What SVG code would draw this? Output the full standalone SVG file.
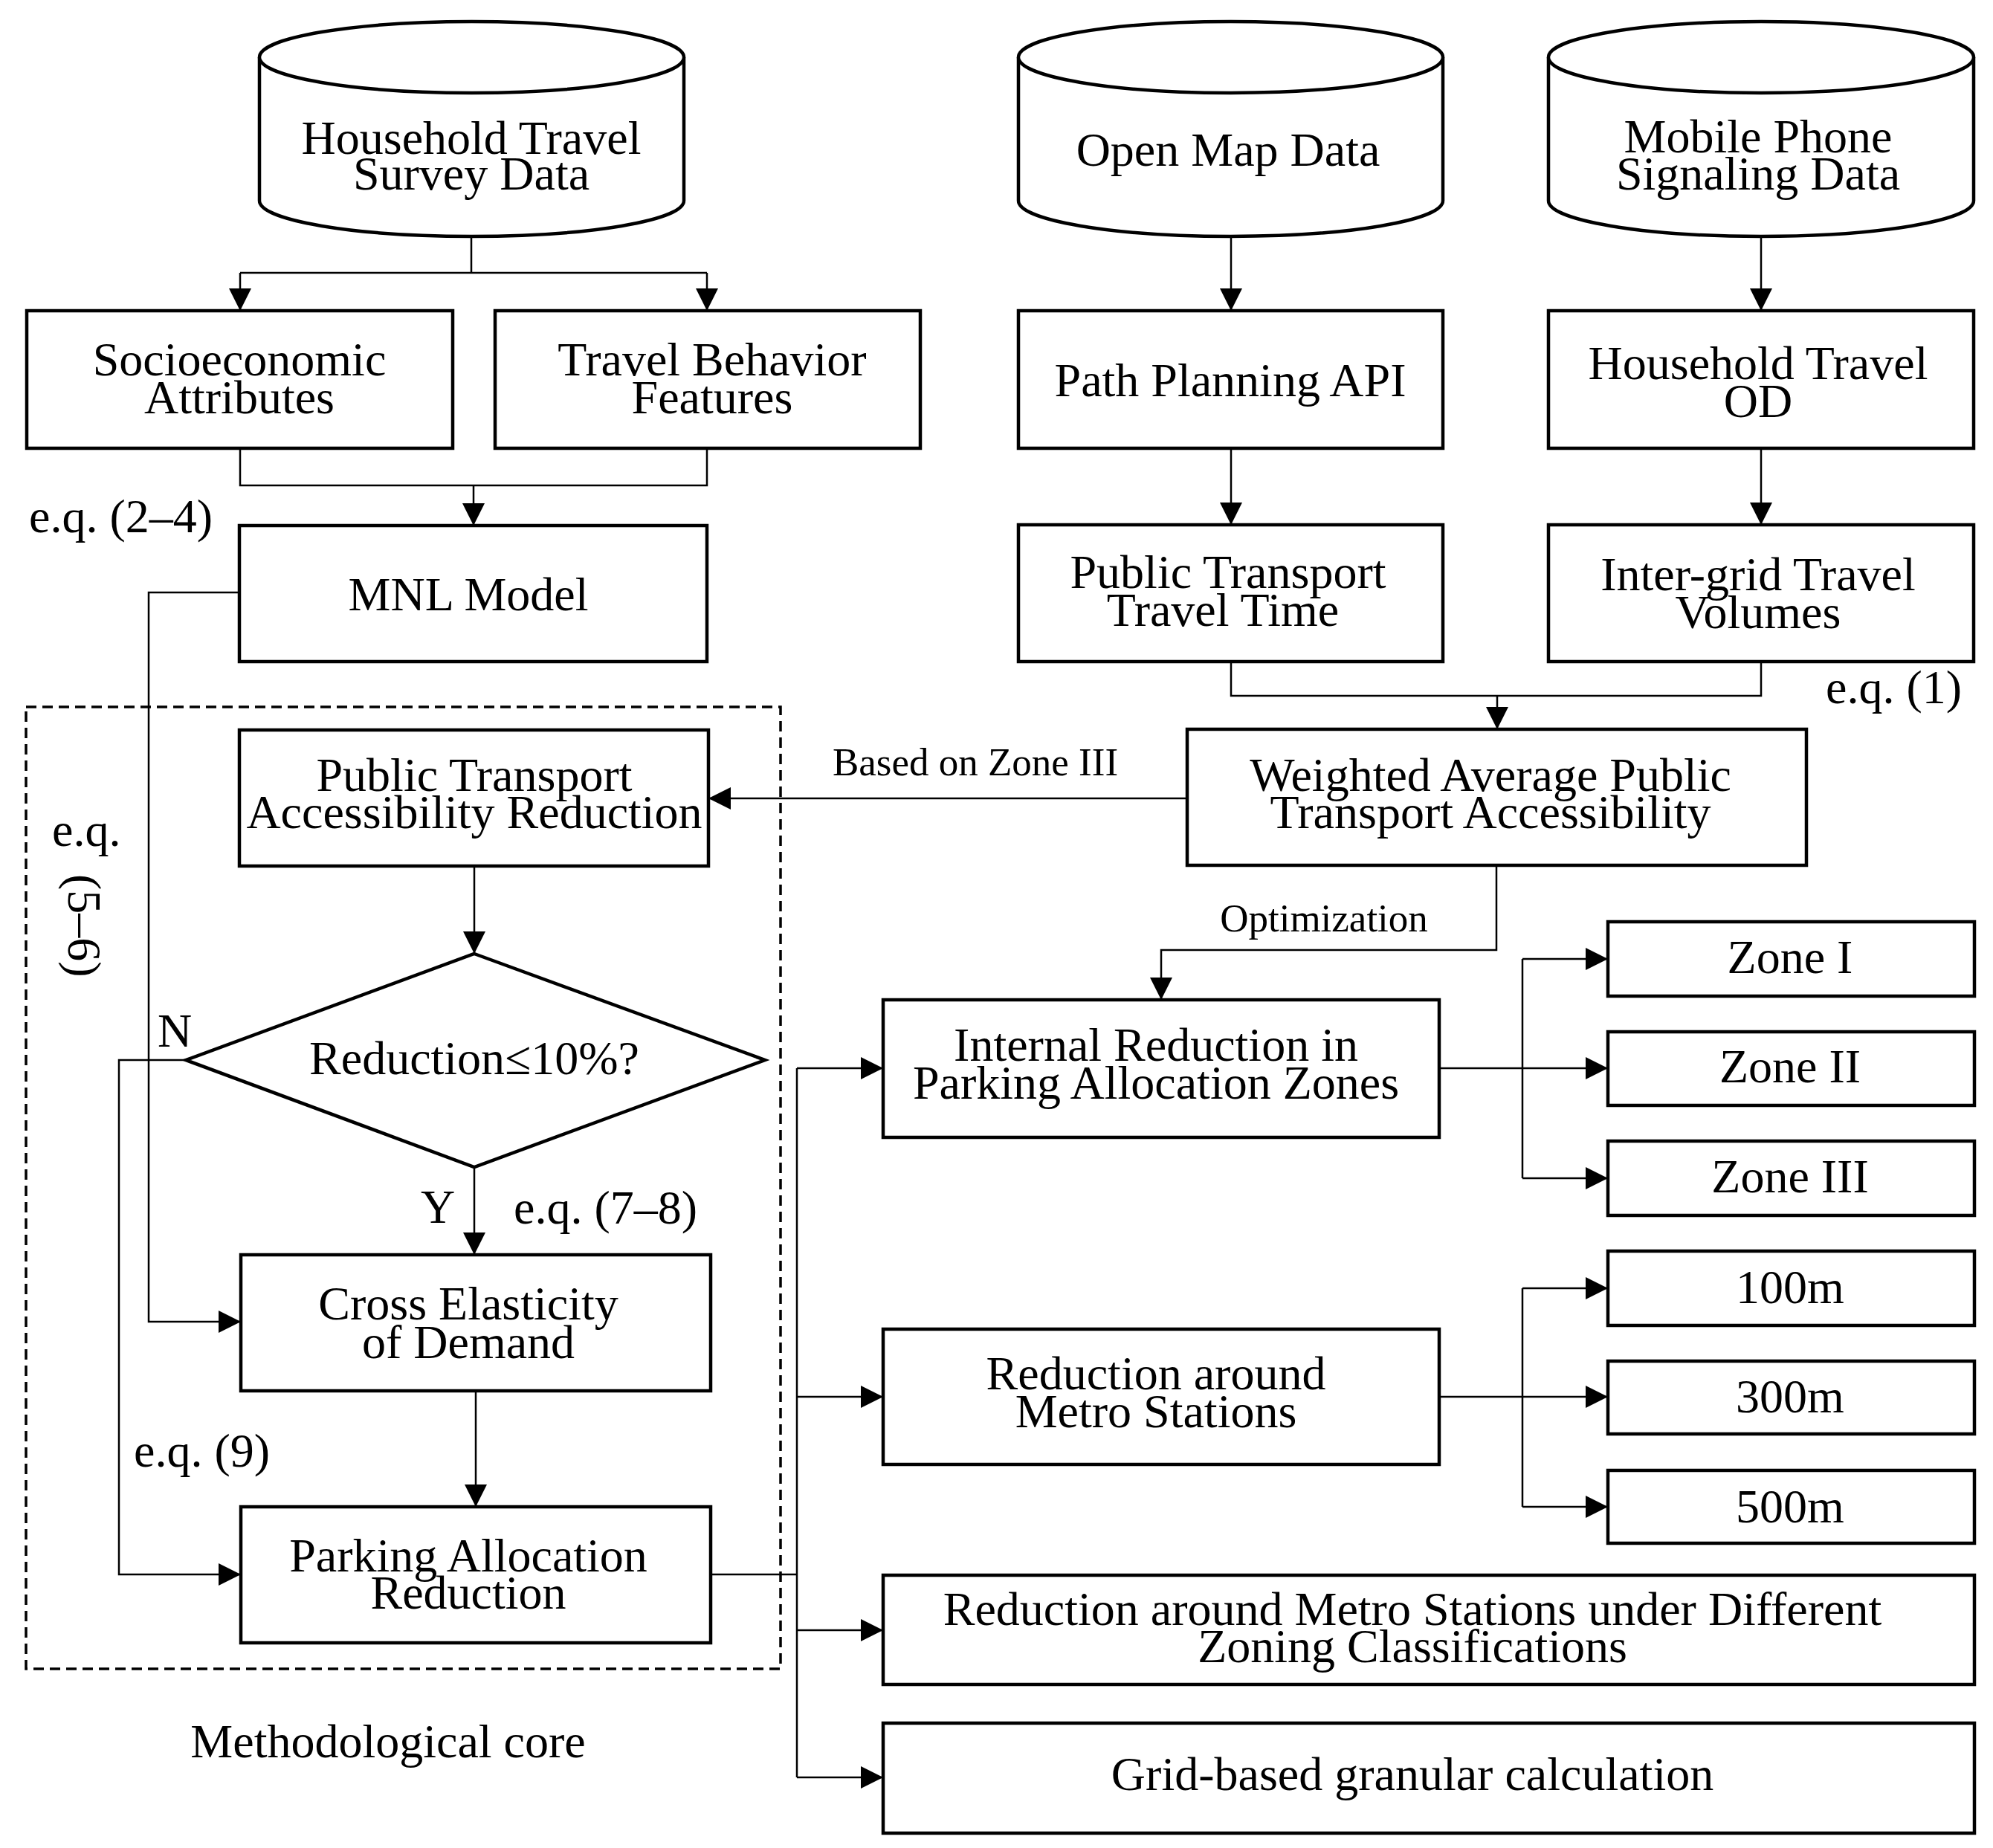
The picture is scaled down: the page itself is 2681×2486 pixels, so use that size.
<svg xmlns="http://www.w3.org/2000/svg" width="2681" height="2486" viewBox="0 0 2681 2486">
<style>
text{font-family:"Liberation Serif","Times New Roman",serif;fill:#000;}
.t{font-size:64px;text-anchor:middle;}
.s{font-size:53px;}
.l{font-size:64px;}
.box{fill:#fff;stroke:#000;stroke-width:4.5;}
.cyl{fill:#fff;stroke:#000;stroke-width:4.5;}
.c{fill:none;stroke:#000;stroke-width:2.5;}
.a{fill:none;stroke:#000;stroke-width:2.5;marker-end:url(#ah);}
</style>
<defs>
<marker id="ah" markerUnits="userSpaceOnUse" markerWidth="32" markerHeight="30" refX="30" refY="15" orient="auto">
<path d="M0,0 L30,15 L0,30 Z" fill="#000"/>
</marker>
</defs>
<rect width="2681" height="2486" fill="#fff"/>
<g id="connectors">
<path class="c" d="M634,318 V367 M323,367 H951"/>
<path class="a" d="M323,367 V418"/>
<path class="a" d="M951,367 V418"/>
<path class="c" d="M323,603 V653 H951 V603"/>
<path class="a" d="M637,653 V707"/>
<path class="a" d="M1656,318 V418"/>
<path class="a" d="M1656,603 V706"/>
<path class="a" d="M2369,318 V418"/>
<path class="a" d="M2369,603 V706"/>
<path class="c" d="M1656,890 V936 H2369 V890"/>
<path class="a" d="M2014,936 V981"/>
<path class="a" d="M1597,1074 H953"/>
<path class="a" d="M2013,1164 V1278 H1562 V1345"/>
<path class="a" d="M638,1165 V1283"/>
<path class="a" d="M638,1570 V1688"/>
<path class="a" d="M640,1871 V2027"/>
<path class="a" d="M322,797 H200 V1778 H324"/>
<path class="a" d="M250,1426 H160 V2118 H324"/>
<path class="c" d="M956,2118 H1072 M1072,1437 V2391"/>
<path class="a" d="M1072,1437 H1188"/>
<path class="a" d="M1072,1879 H1188"/>
<path class="a" d="M1072,2193 H1188"/>
<path class="a" d="M1072,2391 H1188"/>
<path class="a" d="M1936,1437 H2163"/>
<path class="c" d="M2048,1290 V1585"/>
<path class="a" d="M2048,1290 H2163"/>
<path class="a" d="M2048,1585 H2163"/>
<path class="a" d="M1936,1879 H2163"/>
<path class="c" d="M2048,1733 V2027"/>
<path class="a" d="M2048,1733 H2163"/>
<path class="a" d="M2048,2027 H2163"/>
</g>
<g id="core-frame">
<rect x="35" y="951" width="1015" height="1294" fill="none" stroke="#000" stroke-width="3.5" stroke-dasharray="14,8"/>
</g>
<g id="n-hts">
<path class="cyl" d="M349,77 V270 A285.5,48 0 0 0 920,270 V77 A285.5,48 0 0 0 349,77 Z"/>
<path class="cyl" d="M349,77 A285.5,48 0 0 0 920,77"/>
<text class="t" x="634" y="207">Household Travel</text>
<text class="t" x="634" y="255">Survey Data</text>
</g>
<g id="n-openmap">
<path class="cyl" d="M1370,77 V270 A285.5,48 0 0 0 1941,270 V77 A285.5,48 0 0 0 1370,77 Z"/>
<path class="cyl" d="M1370,77 A285.5,48 0 0 0 1941,77"/>
<text class="t" x="1652" y="223">Open Map Data</text>
</g>
<g id="n-mobile">
<path class="cyl" d="M2083,77 V270 A286,48 0 0 0 2655,270 V77 A286,48 0 0 0 2083,77 Z"/>
<path class="cyl" d="M2083,77 A286,48 0 0 0 2655,77"/>
<text class="t" x="2365" y="205">Mobile Phone</text>
<text class="t" x="2365" y="255">Signaling Data</text>
</g>
<g id="n-socio">
<rect class="box" x="36" y="418" width="573" height="185"/>
<text class="t" x="322" y="505">Socioeconomic</text>
<text class="t" x="322" y="556">Attributes</text>
</g>
<g id="n-behav">
<rect class="box" x="666" y="418" width="572" height="185"/>
<text class="t" x="958" y="505">Travel Behavior</text>
<text class="t" x="958" y="556">Features</text>
</g>
<g id="n-path">
<rect class="box" x="1370" y="418" width="571" height="185"/>
<text class="t" x="1655" y="533">Path Planning API</text>
</g>
<g id="n-od">
<rect class="box" x="2083" y="418" width="572" height="185"/>
<text class="t" x="2365" y="510">Household Travel</text>
<text class="t" x="2365" y="561">OD</text>
</g>
<g id="n-mnl">
<rect class="box" x="322" y="707" width="629" height="183"/>
<text class="t" x="630" y="821">MNL Model</text>
</g>
<g id="n-pttime">
<rect class="box" x="1370" y="706" width="571" height="184"/>
<text class="t" x="1652" y="791">Public Transport</text>
<text class="t" x="1645" y="842">Travel Time</text>
</g>
<g id="n-intergrid">
<rect class="box" x="2083" y="706" width="572" height="184"/>
<text class="t" x="2365" y="794">Inter-grid Travel</text>
<text class="t" x="2365" y="845">Volumes</text>
</g>
<g id="n-weighted">
<rect class="box" x="1597" y="981" width="833" height="183"/>
<text class="t" x="2005" y="1064">Weighted Average Public</text>
<text class="t" x="2005" y="1114">Transport Accessibility</text>
</g>
<g id="n-ptred">
<rect class="box" x="322" y="982" width="631" height="183"/>
<text class="t" x="638" y="1064">Public Transport</text>
<text class="t" x="638" y="1114">Accessibility Reduction</text>
</g>
<g id="n-decision">
<polygon class="box" points="638,1283 1029,1426 638,1570 250,1426"/>
<text class="t" x="638" y="1445">Reduction≤10%?</text>
</g>
<g id="n-cross">
<rect class="box" x="324" y="1688" width="632" height="183"/>
<text class="t" x="630" y="1775">Cross Elasticity</text>
<text class="t" x="630" y="1827">of Demand</text>
</g>
<g id="n-parking">
<rect class="box" x="324" y="2027" width="632" height="183"/>
<text class="t" x="630" y="2114">Parking Allocation</text>
<text class="t" x="630" y="2164">Reduction</text>
</g>
<g id="n-internal">
<rect class="box" x="1188" y="1345" width="748" height="185"/>
<text class="t" x="1555" y="1427">Internal Reduction in</text>
<text class="t" x="1555" y="1478">Parking Allocation Zones</text>
</g>
<g id="n-metro">
<rect class="box" x="1188" y="1788" width="748" height="182"/>
<text class="t" x="1555" y="1869">Reduction around</text>
<text class="t" x="1555" y="1920">Metro Stations</text>
</g>
<g id="n-zone1">
<rect class="box" x="2163" y="1240" width="493" height="100"/>
<text class="t" x="2408" y="1309">Zone I</text>
</g>
<g id="n-zone2">
<rect class="box" x="2163" y="1388" width="493" height="99"/>
<text class="t" x="2408" y="1456">Zone II</text>
</g>
<g id="n-zone3">
<rect class="box" x="2163" y="1535" width="493" height="100"/>
<text class="t" x="2408" y="1604">Zone III</text>
</g>
<g id="n-100">
<rect class="box" x="2163" y="1683" width="493" height="100"/>
<text class="t" x="2408" y="1753">100m</text>
</g>
<g id="n-300">
<rect class="box" x="2163" y="1831" width="493" height="98"/>
<text class="t" x="2408" y="1900">300m</text>
</g>
<g id="n-500">
<rect class="box" x="2163" y="1978" width="493" height="98"/>
<text class="t" x="2408" y="2048">500m</text>
</g>
<g id="n-zoning">
<rect class="box" x="1188" y="2119" width="1468" height="147"/>
<text class="t" x="1900" y="2186">Reduction around Metro Stations under Different</text>
<text class="t" x="1900" y="2236">Zoning Classifications</text>
</g>
<g id="n-grid">
<rect class="box" x="1188" y="2318" width="1468" height="148"/>
<text class="t" x="1900" y="2408">Grid-based granular calculation</text>
</g>
<g id="labels">
<text class="l" x="39" y="716">e.q. (2–4)</text>
<text class="l" x="2456" y="946">e.q. (1)</text>
<text class="s" x="1312" y="1043" text-anchor="middle">Based on Zone III</text>
<text class="s" x="1781" y="1253" text-anchor="middle">Optimization</text>
<text class="l" x="70" y="1138">e.q.</text>
<text class="l" transform="translate(92,1176) rotate(90)">(5–6)</text>
<text class="l" x="212" y="1408">N</text>
<text class="l" x="566" y="1645">Y</text>
<text class="l" x="691" y="1646">e.q. (7–8)</text>
<text class="l" x="180" y="1973">e.q. (9)</text>
<text class="l" x="522" y="2364" text-anchor="middle">Methodological core</text>
</g>
</svg>
